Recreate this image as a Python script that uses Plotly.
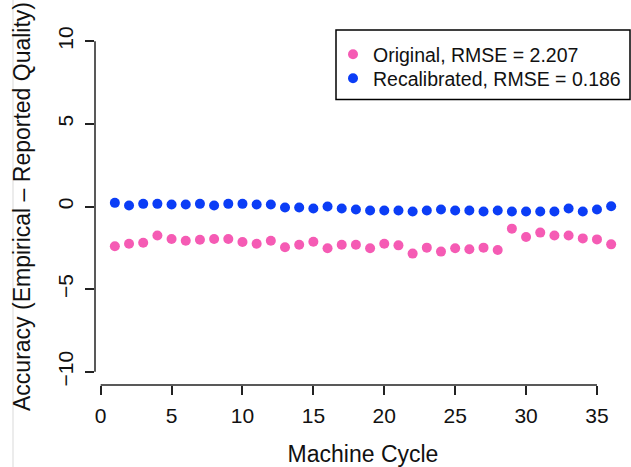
import plotly.graph_objects as go

# Machine cycles and per-cycle quality accuracy (empirical minus reported)
cycles = list(range(1, 37))
original = [-2.41, -2.25, -2.19, -1.75, -1.97, -2.07, -2.01, -1.97, -1.97, -2.15,
            -2.25, -2.07, -2.47, -2.31, -2.13, -2.53, -2.31, -2.31, -2.53, -2.25,
            -2.35, -2.85, -2.49, -2.73, -2.53, -2.59, -2.49, -2.63, -1.34, -1.85,
            -1.58, -1.75, -1.75, -1.93, -1.99, -2.29]
recalibrated = [0.22, 0.06, 0.16, 0.16, 0.12, 0.12, 0.16, 0.06, 0.16, 0.16,
                0.12, 0.12, -0.06, -0.06, -0.12, 0.00, -0.12, -0.18, -0.24, -0.24,
                -0.24, -0.30, -0.24, -0.18, -0.24, -0.24, -0.30, -0.24, -0.30, -0.30,
                -0.30, -0.30, -0.12, -0.30, -0.18, 0.02]
series_names = ["Original, RMSE = 2.207", "Recalibrated, RMSE = 0.186"]
series_colors = ["#F55BB4", "#0B3DF6"]
x_ticks = [0, 5, 10, 15, 20, 25, 30, 35]
y_ticks = [-10, -5, 0, 5, 10]

W, H = 631, 467
ML, MR, MT, MB = 95, 0, 28, 82
PW, PH = W - ML - MR, H - MT - MB
FONT = "Liberation Sans, Arial, Helvetica, sans-serif"


def px_x(p):
    return (p - ML) / PW


def px_y(p):
    return (H - MB - p) / PH


fig = go.Figure()
legend_ids = ["legend", "legend2"]
for name, vals, col, lg in zip(series_names, [original, recalibrated],
                               series_colors, legend_ids):
    fig.add_trace(go.Scatter(
        x=cycles, y=vals, mode="markers", name=name, legend=lg,
        marker=dict(color=col, size=10, line=dict(width=0)),
    ))

axis_col = "#222222"
legend_style = dict(
    x=px_x(333), xanchor="left", yanchor="top",
    bgcolor="rgba(0,0,0,0)", borderwidth=0,
    font=dict(size=19.5), itemclick=False, itemdoubleclick=False,
)
fig.update_layout(
    width=W, height=H,
    margin=dict(l=ML, r=MR, t=MT, b=MB),
    paper_bgcolor="white", plot_bgcolor="white",
    font=dict(family=FONT, size=21, color="#111111"),
    xaxis=dict(
        range=[-0.4, 37.4], tickvals=x_ticks, ticks="outside", ticklen=9,
        tickwidth=1.5, tickcolor=axis_col, showline=False, showgrid=False,
        zeroline=False, ticklabelstandoff=3,
        title=dict(text="Machine Cycle", font=dict(size=23), standoff=19),
    ),
    yaxis=dict(
        range=[-10.8, 10.8], tickvals=y_ticks, ticks="outside", ticklen=9,
        tickwidth=1.5, tickcolor=axis_col, showline=False, showgrid=False,
        zeroline=False, tickangle=-90, ticklabelstandoff=4,
        tickformat="d",
        title=dict(text="Accuracy (Empirical \u2013 Reported Quality)",
                   font=dict(size=23), standoff=16),
    ),
    legend=dict(y=px_y(35), **legend_style),
    legend2=dict(y=px_y(59), **legend_style),
    showlegend=True,
)

# R-style axis lines spanning only the tick range
fig.add_shape(type="line", xref="paper", yref="y", x0=0, x1=0,
              y0=y_ticks[0], y1=y_ticks[-1], line=dict(color=axis_col, width=1.5))
fig.add_shape(type="line", xref="x", yref="paper", x0=x_ticks[0], x1=x_ticks[-1],
              y0=0, y1=0, line=dict(color=axis_col, width=1.5))

# legend frame
fig.add_shape(type="rect", xref="paper", yref="paper",
              x0=px_x(336), x1=px_x(630), y0=px_y(99.5), y1=px_y(30),
              line=dict(color="black", width=1.5), fillcolor="rgba(0,0,0,0)")

# thin page divider on the far left
fig.add_shape(type="line", xref="paper", yref="paper",
              x0=px_x(13), x1=px_x(13), y0=px_y(H), y1=px_y(0),
              line=dict(color="#D9D9D9", width=1))

fig.write_html("out.html")
